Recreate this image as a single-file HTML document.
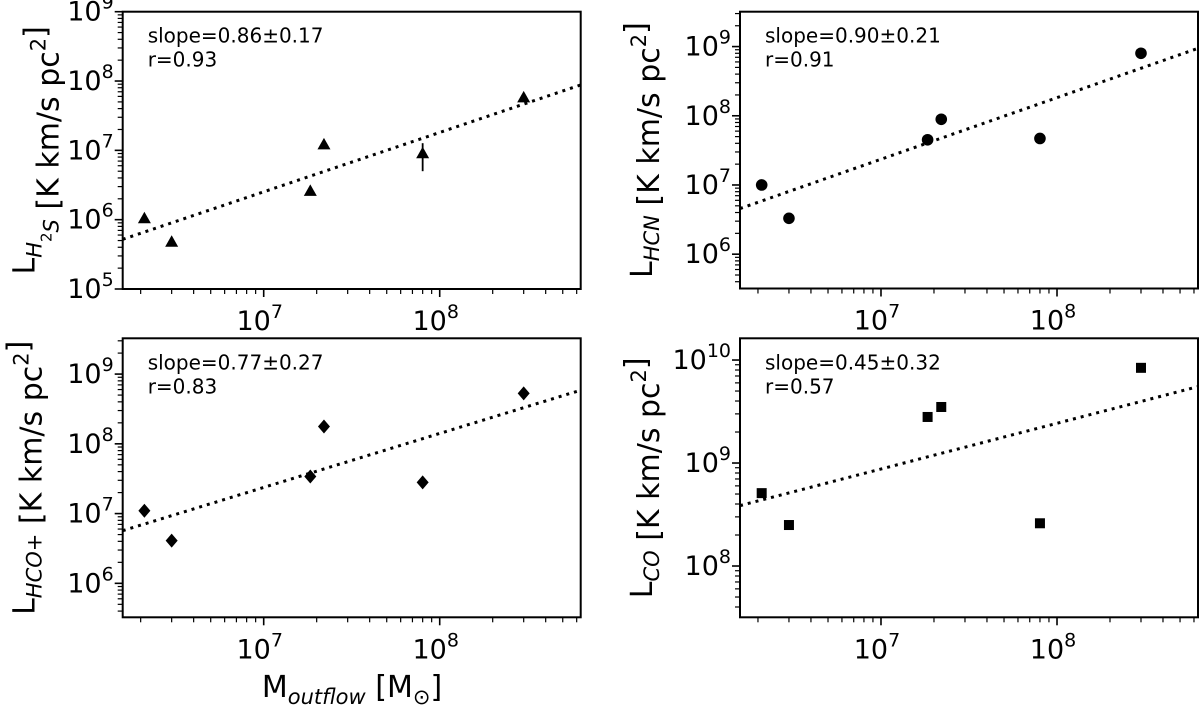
<!DOCTYPE html>
<html><head><meta charset="utf-8"><style>
html,body{margin:0;padding:0;background:#fff;}
svg{display:block;font-family:"DejaVu Sans","Liberation Sans",sans-serif;}
</style></head><body>
<svg id="fig" width="1200" height="711" viewBox="0 0 1200 711" xmlns="http://www.w3.org/2000/svg"></svg>
<script>
// Shared x data (outflow mass, Msun)
const mOutflow = [2.1e6, 3.0e6, 1.84e7, 2.2e7, 8.0e7, 3.0e8];
// Series values
const lH2S  = [1.05e6, 4.8e5, 2.6e6, 1.22e7, 9.1e6, 5.8e7];
const lHCN  = [1.0e7, 3.3e6, 4.5e7, 8.9e7, 4.7e7, 8.0e8];
const lHCOp = [1.1e7, 4.1e6, 3.4e7, 1.77e8, 2.8e7, 5.3e8];
const lCO   = [5.1e8, 2.5e8, 2.8e9, 3.5e9, 2.6e8, 8.4e9];
// Fits: log L = intercept + slope * log M
const fitSlopes = [0.856, 0.89, 0.774, 0.444];
const fitIntercepts = [0.41, 1.142, 1.957, 5.834];
const annotSlope = ["slope=0.86\u00b10.17","slope=0.90\u00b10.21","slope=0.77\u00b10.27","slope=0.45\u00b10.32"];
const annotR = ["r=0.93","r=0.91","r=0.83","r=0.57"];
const xTickExps = [7, 8];
const yTickExps0 = [5,6,7,8,9];
const yTickExps1 = [6,7,8,9];
const yTickExps2 = [6,7,8,9];
const yTickExps3 = [8,9,10];

const NS = "http://www.w3.org/2000/svg";
const svg = document.getElementById('fig');
function mk(tag, attrs, parent){ const e=document.createElementNS(NS,tag); for(const k in attrs) e.setAttribute(k,attrs[k]); (parent||svg).appendChild(e); return e; }

const XLOG=[6.199, 8.801];
const panels = [
 {key:'h2s', x0:122.7,x1:580.7,y0:11.7,y1:289, ylog:[5,9], ticks:yTickExps0, data:lH2S, marker:'tri', label:[['L',0],['H',1],['2',2],['S',1],[' [K km/s pc',0],['2',3],[']',0]]},
 {key:'hcn', x0:740,x1:1198,y0:11.7,y1:288.5, ylog:[5.504,9.504], ticks:yTickExps1, data:lHCN, marker:'circ', label:[['L',0],['HCN',1],[' [K km/s pc',0],['2',3],[']',0]]},
 {key:'hcop', x0:122.7,x1:580.7,y0:338.3,y1:617.3, ylog:[5.513,9.513], ticks:yTickExps2, data:lHCOp, marker:'diam', label:[['L',0],['HCO+',1],['  [K km/s pc',0],['2',3],[']',0]]},
 {key:'co', x0:740,x1:1198,y0:338.3,y1:617.3, ylog:[7.502,10.211], ticks:yTickExps3, data:lCO, marker:'sq', label:[['L',0],['CO',1],[' [K km/s pc',0],['2',3],[']',0]]}
];

panels.forEach((p,i)=>{
  const g = mk('g',{});
  
  
  const sx = v => p.x0 + (Math.log10(v)-XLOG[0])/(XLOG[1]-XLOG[0])*(p.x1-p.x0);
  const sy = v => p.y1 - (Math.log10(v)-p.ylog[0])/(p.ylog[1]-p.ylog[0])*(p.y1-p.y0);
  const syl = l => p.y1 - (l-p.ylog[0])/(p.ylog[1]-p.ylog[0])*(p.y1-p.y0);
  const sxl = l => p.x0 + (l-XLOG[0])/(XLOG[1]-XLOG[0])*(p.x1-p.x0);
  // x ticks
  for(let e=6;e<=8;e++) for(let m=1;m<=9;m++){
    const l=e+Math.log10(m); if(l<XLOG[0]-1e-6||l>XLOG[1]+1e-6) continue;
    const x=sxl(l); const len = m===1?8:5;
    const t=mk('line',{x1:x,x2:x,y1:p.y1,y2:p.y1+len,stroke:'#000','stroke-width':m===1?1.6:1.2},g);
    
    
  }
  xTickExps.forEach(e=>{
    const x=sxl(e);
    const t=mk('text',{x:x-4,y:p.y1+41,'font-size':27,'text-anchor':'middle',fill:'#000'},g);
    
    
    t.innerHTML='10<tspan dy="-12" font-size="19">'+e+'</tspan>';
  });
  // y ticks
  for(let e=Math.floor(p.ylog[0]);e<=Math.ceil(p.ylog[1]);e++) for(let m=1;m<=9;m++){
    const l=e+Math.log10(m); if(l<p.ylog[0]-1e-6||l>p.ylog[1]+1e-6) continue;
    const y=syl(l); const len=m===1?8:5;
    const t=mk('line',{x1:p.x0-len,x2:p.x0,y1:y,y2:y,stroke:'#000','stroke-width':m===1?1.6:1.2},g);
    
    
  }
  p.ticks.forEach(e=>{
    const y=syl(e);
    const t=mk('text',{x:p.x0-9,y:y+9,'font-size':27,'text-anchor':'end',fill:'#000'},g);
    
    
    t.innerHTML='10<tspan dy="-12" font-size="19">'+e+'</tspan>';
  });
  // frame
  const fr=mk('rect',{x:p.x0,y:p.y0,width:p.x1-p.x0,height:p.y1-p.y0,fill:'none',stroke:'#000','stroke-width':2},g);
  
  
  // fit line
  const b=fitSlopes[i], a=fitIntercepts[i];
  const fl=mk('line',{x1:p.x0,y1:syl(a+b*XLOG[0]),x2:p.x1,y2:syl(a+b*XLOG[1]),stroke:'#000','stroke-width':3,'stroke-dasharray':'3 5'},g);
  
  
  // points
  mOutflow.forEach((mv,j)=>{
    const x=sx(mv), y=sy(p.data[j]); let el;
    if(p.marker==='tri') el=mk('polygon',{points:`${x},${y-6.5} ${x-6.5},${y+5} ${x+6.5},${y+5}`,fill:'#000'},g);
    else if(p.marker==='circ') el=mk('circle',{cx:x,cy:y,r:5.8,fill:'#000'},g);
    else if(p.marker==='diam') el=mk('polygon',{points:`${x},${y-7} ${x+6},${y} ${x},${y+7} ${x-6},${y}`,fill:'#000'},g);
    else el=mk('rect',{x:x-5,y:y-5,width:10,height:10,fill:'#000'},g);
    
    
    if(p.marker==='tri' && j===4){
      const eb=mk('line',{x1:x,x2:x,y1:y-10,y2:y+18,stroke:'#000','stroke-width':1.8},g);
      
      
    }
  });
  // annotation
  const t1=mk('text',{x:p.x0+25,y:p.y0+31,'font-size':20,fill:'#000'},g);
  t1.textContent=annotSlope[i];
  
  
  const t2=mk('text',{x:p.x0+25,y:p.y0+55,'font-size':20,fill:'#000'},g);
  t2.textContent=annotR[i];
  
  
  // y label
  const cy=(p.y0+p.y1)/2, cx=p.x0-88;
  const yl=mk('text',{x:0,y:0,'font-size':30,'text-anchor':'middle',fill:'#000',transform:`translate(${cx},${cy}) rotate(-90)`},g);
  
  
  let html='';
  p.label.forEach(([s,k])=>{
    if(k===0) html+=`<tspan>${s}</tspan>`;
    else if(k===1) html+=`<tspan font-size="21" font-style="italic" dy="7">${s}</tspan><tspan dy="-7"></tspan>`;
    else if(k===2) html+=`<tspan font-size="15" dy="10">${s}</tspan><tspan dy="-10"></tspan>`;
    else html+=`<tspan font-size="21" dy="-13">${s}</tspan><tspan dy="13"></tspan>`;
  });
  yl.innerHTML=html;
});
const xl=mk('text',{x:352,y:697,'font-size':30,'text-anchor':'middle',fill:'#000'});


xl.innerHTML='M<tspan font-size="21" font-style="italic" dy="7">outflow</tspan><tspan dy="-7"> [M</tspan><tspan font-size="21" dy="7">\u2299</tspan><tspan dy="-7">]</tspan>';
</script>
</body></html>
